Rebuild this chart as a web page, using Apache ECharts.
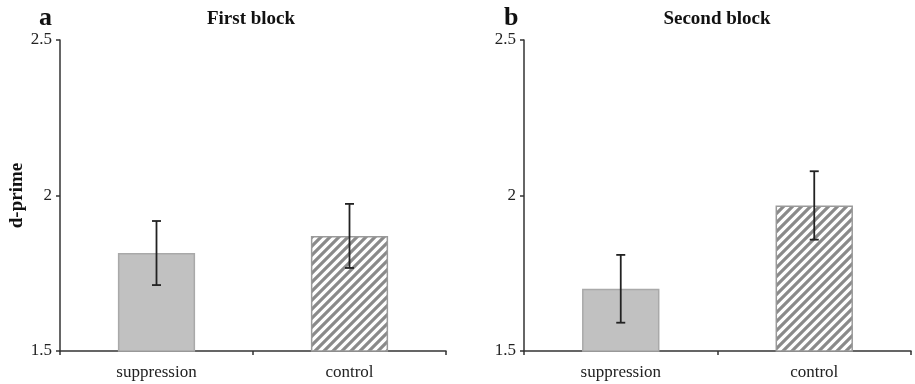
<!DOCTYPE html>
<html>
<head>
<meta charset="utf-8">
<script src="https://cdn.jsdelivr.net/npm/echarts@6/dist/echarts.min.js"></script>
<style>
  html, body { margin: 0; padding: 0; background: #fff; }
  #chart { width: 915px; height: 384px; }
</style>
</head>
<body>
<div id="chart"></div>
<script>
// data
const categories = ["suppression", "control"];
const yTicks = [1.5, 2, 2.5];
const firstMeans = [1.815, 1.87];
const firstErr = [0.103, 0.103];
const secondMeans = [1.70, 1.968];
const secondErr = [0.109, 0.11];

const serif = "Liberation Serif";
const axisColor = "#333";

// diagonal hatch for the control bars
function makeHatch() {
  const s = 9;
  const c = document.createElement("canvas");
  c.width = s;
  c.height = s;
  const ctx = c.getContext("2d");
  ctx.fillStyle = "#fff";
  ctx.fillRect(0, 0, s, s);
  ctx.strokeStyle = "#8a8a8a";
  ctx.lineWidth = 3.2;
  ctx.beginPath();
  ctx.moveTo(-2, s + 2); ctx.lineTo(s + 2, -2);
  ctx.moveTo(-2, 2); ctx.lineTo(2, -2);
  ctx.moveTo(s - 2, s + 2); ctx.lineTo(s + 2, s - 2);
  ctx.stroke();
  return c;
}
const hatch = makeHatch();

function barData(means) {
  return means.map((v, i) => {
    if (i === 0) {
      return { value: v, itemStyle: { color: "#c1c1c1", borderColor: "#a9a9a9", borderWidth: 1.5 } };
    }
    return { value: v, itemStyle: { color: { image: hatch, repeat: "repeat" }, borderColor: "#9a9a9a", borderWidth: 1.5 } };
  });
}

function errData(means, errs) {
  return means.map((v, i) => [i, v - errs[i], v + errs[i]]);
}

function renderErr(params, api) {
  const lo = api.coord([api.value(0), api.value(1)]);
  const hi = api.coord([api.value(0), api.value(2)]);
  const half = 4.5;
  const style = { stroke: "#222", lineWidth: 1.8 };
  return {
    type: "group",
    children: [
      { type: "line", shape: { x1: hi[0], y1: hi[1], x2: lo[0], y2: lo[1] }, style: style },
      { type: "line", shape: { x1: hi[0] - half, y1: hi[1], x2: hi[0] + half, y2: hi[1] }, style: style },
      { type: "line", shape: { x1: lo[0] - half, y1: lo[1], x2: lo[0] + half, y2: lo[1] }, style: style },
    ],
  };
}

function xAxisCfg(idx) {
  return {
    type: "category",
    gridIndex: idx,
    data: categories,
    axisLine: { lineStyle: { color: axisColor, width: 1.5 } },
    axisTick: { show: true, length: 4, lineStyle: { color: axisColor, width: 1.5 } },
    axisLabel: { color: "#222", fontFamily: serif, fontSize: 17, margin: 13 },
  };
}

function yAxisCfg(idx, name) {
  return {
    type: "value",
    gridIndex: idx,
    min: yTicks[0],
    max: yTicks[yTicks.length - 1],
    interval: 0.5,
    name: name,
    nameLocation: "middle",
    nameRotate: 90,
    nameGap: 33,
    nameTextStyle: { color: "#111", fontFamily: serif, fontSize: 19, fontWeight: "bold" },
    axisLine: { show: true, lineStyle: { color: axisColor, width: 1.5 } },
    axisTick: { show: true, length: 4, lineStyle: { color: axisColor, width: 1.5 } },
    axisLabel: { color: "#222", fontFamily: serif, fontSize: 17, margin: 8 },
    splitLine: { show: false },
  };
}

const chart = echarts.init(document.getElementById("chart"));
chart.setOption({
  backgroundColor: "#fff",
  animation: false,
  title: [
    { text: "a", left: 34, top: 0, textStyle: { fontFamily: serif, fontSize: 26, fontWeight: "bold", color: "#111" } },
    { text: "First block", left: 246, top: 5, textAlign: "center", textStyle: { fontFamily: serif, fontSize: 19, fontWeight: "bold", color: "#111" } },
    { text: "b", left: 499, top: 0, textStyle: { fontFamily: serif, fontSize: 26, fontWeight: "bold", color: "#111" } },
    { text: "Second block", left: 712, top: 5, textAlign: "center", textStyle: { fontFamily: serif, fontSize: 19, fontWeight: "bold", color: "#111" } },
  ],
  grid: [
    { left: 60, right: 469, top: 40, bottom: 33 },
    { left: 524, right: 4, top: 40, bottom: 33 },
  ],
  xAxis: [xAxisCfg(0), xAxisCfg(1)],
  yAxis: [yAxisCfg(0, "d-prime"), yAxisCfg(1, "")],
  series: [
    { type: "bar", xAxisIndex: 0, yAxisIndex: 0, barWidth: "40%", data: barData(firstMeans) },
    { type: "custom", xAxisIndex: 0, yAxisIndex: 0, renderItem: renderErr, data: errData(firstMeans, firstErr), z: 5 },
    { type: "bar", xAxisIndex: 1, yAxisIndex: 1, barWidth: "40%", data: barData(secondMeans) },
    { type: "custom", xAxisIndex: 1, yAxisIndex: 1, renderItem: renderErr, data: errData(secondMeans, secondErr), z: 5 },
  ],
});
</script>
</body>
</html>
